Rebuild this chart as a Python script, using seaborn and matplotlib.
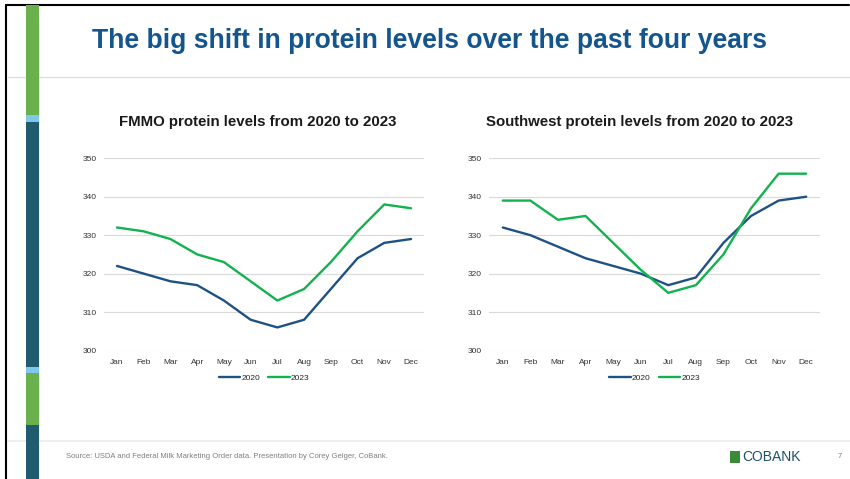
import numpy as np
import pandas as pd
import matplotlib
matplotlib.use("Agg")
import matplotlib.pyplot as plt
from matplotlib.patches import Rectangle, Polygon
from matplotlib.lines import Line2D
import seaborn as sns

months = ['Jan', 'Feb', 'Mar', 'Apr', 'May', 'Jun', 'Jul', 'Aug', 'Sep', 'Oct', 'Nov', 'Dec']
fmmo_2020 = [322, 320, 318, 317, 313, 308, 306, 308, 316, 324, 328, 329]
fmmo_2023 = [332, 331, 329, 325, 323, 318, 313, 316, 323, 331, 338, 337]
sw_2020 = [332, 330, 327, 324, 322, 320, 317, 319, 328, 335, 339, 340]
sw_2023 = [339, 339, 334, 335, 328, 321, 315, 317, 325, 337, 346, 346]
y_ticks = [300, 310, 320, 330, 340, 350]

blue = '#1d5284'
green = '#12b24f'
title_blue = '#13558c'

sns.set_theme(style='white')
plt.rcParams['font.family'] = ['Liberation Sans', 'DejaVu Sans']

W, H = 850, 479
fig = plt.figure(figsize=(W / 100, H / 100), dpi=100)
fig.patch.set_facecolor('white')


def px(x0, y0, x1, y1):
    # pixel box -> figure fraction [left, bottom, width, height]
    return [x0 / W, 1 - y1 / H, (x1 - x0) / W, (y1 - y0) / H]


def make_df(a, b):
    return pd.DataFrame({
        'month': months * 2,
        'value': a + b,
        'year': ['2020'] * 12 + ['2023'] * 12,
    })


def draw(ax, df, title, cx):
    sns.lineplot(data=df, x='month', y='value', hue='year',
                 palette={'2020': blue, '2023': green}, linewidth=1.7,
                 sort=False, ax=ax, legend=False)
    ax.set_xlim(-0.5, 11.5)
    ax.set_ylim(300, 350)
    ax.set_yticks(y_ticks)
    ax.set_xlabel('')
    ax.set_ylabel('')
    ax.grid(axis='y', color='#d9d9d9', linewidth=0.8)
    ax.set_axisbelow(True)
    for s in ax.spines.values():
        s.set_visible(False)
    ax.tick_params(axis='both', length=0, labelsize=6, colors='#333333')
    ax.tick_params(axis='y', pad=5)
    ax.tick_params(axis='x', pad=6)
    handles = [Line2D([], [], color=blue, lw=1.7), Line2D([], [], color=green, lw=1.7)]
    ax.legend(handles, ['2020', '2023'], loc='upper center',
              bbox_to_anchor=(0.5, -0.085), ncol=2, frameon=False, fontsize=6,
              handlelength=2.6, handletextpad=0.1, columnspacing=1.0)
    fig.text(cx / W, 1 - 122 / H, title, ha='center', va='center',
             fontsize=10.8, fontweight='bold', color='#1a1a1a')


ax1 = fig.add_axes(px(103.6, 158.3, 424.4, 350.5))
draw(ax1, make_df(fmmo_2020, fmmo_2023), 'FMMO protein levels from 2020 to 2023', 258)
ax2 = fig.add_axes(px(489, 158.3, 820, 350.5))
draw(ax2, make_df(sw_2020, sw_2023), 'Southwest protein levels from 2020 to 2023', 639)

# slide decoration
deco = fig.add_axes([0, 0, 1, 1], zorder=-1)
deco.set_xlim(0, W)
deco.set_ylim(H, 0)
deco.axis('off')
deco.plot([6, 849], [5, 5], color='black', lw=1.5)
deco.plot([6, 6], [5, 479], color='black', lw=1.5)
deco.plot([8, 850], [77, 77], color='#dedee8', lw=1, zorder=1)
deco.plot([8, 850], [441, 441], color='#ececec', lw=1.2, zorder=1)
strip = [(5, 115, '#6ab04c'), (115, 122, '#7ec8ec'), (122, 367, '#1f5c6e'),
         (367, 373, '#7ec8ec'), (373, 425, '#6ab04c'), (425, 479, '#1f5c6e')]
for y0, y1, c in strip:
    deco.add_patch(Rectangle((26, y0), 13, y1 - y0, color=c, lw=0, zorder=3))
deco.add_patch(Polygon([(730, 451), (740, 451), (740, 463), (730, 463)],
                       closed=True, color='#3a8a3a', lw=0))

fig.text(92 / W, 1 - 41 / H, 'The big shift in protein levels over the past four years',
         ha='left', va='center', fontsize=19.1, fontweight='bold', color=title_blue)
fig.text(66 / W, 1 - 457 / H,
         'Source: USDA and Federal Milk Marketing Order data. Presentation by Corey Geiger, CoBank.',
         ha='left', va='center', fontsize=5.5, color='#7f7f7f')
fig.text(742 / W, 1 - 457 / H, 'COBANK', ha='left', va='center', fontsize=10,
         color='#1d4f6b')
fig.text(838 / W, 1 - 456 / H, '7', ha='left', va='center', fontsize=5.5, color='#7f7f7f')

fig.savefig('out.png', dpi=100)
